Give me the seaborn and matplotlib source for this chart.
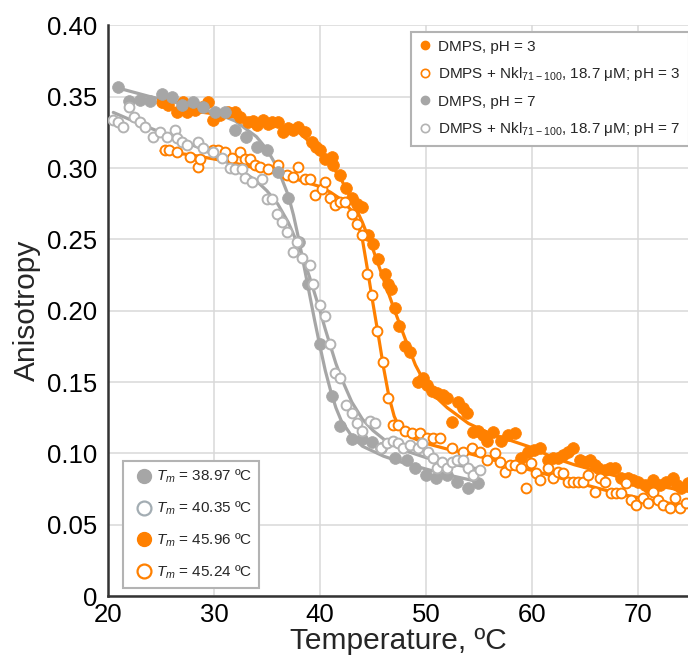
import numpy as np
import pandas as pd
import matplotlib
matplotlib.use("Agg")
import matplotlib.pyplot as plt
import seaborn as sns
from matplotlib.lines import Line2D

# ---------------- data ----------------
# DMPS, pH = 3 (orange, filled)
ph3_x = [25.1, 25.7, 26.5, 27.1, 27.5, 28.2, 28.9, 29.4, 29.9, 30.6, 31.3, 32.0, 32.5, 33.2, 33.7,
         34.1, 34.6, 35.1, 35.5, 36.0, 36.5, 37.0, 37.5, 37.9, 38.6, 39.2, 39.6, 40.0, 40.5, 41.1,
         41.2, 41.9, 42.5, 43.0, 43.5, 44.0, 44.5, 45.0, 45.5, 46.1, 46.4, 46.7, 47.1, 47.5, 48.0,
         48.5, 49.2, 49.7, 50.1, 50.6, 51.0, 51.6, 52.0, 52.5, 53.0, 53.5, 53.9, 54.4, 54.9, 55.4,
         55.8, 56.3, 57.1, 57.7, 58.4, 59.0, 59.6, 60.2, 60.8, 61.5, 62.0, 62.5, 62.9, 63.4, 63.9,
         64.5, 65.0, 65.5, 65.9, 66.2, 66.9, 67.4, 67.8, 68.4, 69.1, 69.5, 70.0, 70.7, 71.0, 71.4,
         72.1, 72.6, 73.3, 73.7, 74.1, 74.7]
ph3_y = [0.346, 0.344, 0.339, 0.346, 0.339, 0.341, 0.343, 0.346, 0.334, 0.337, 0.339, 0.339, 0.336, 0.332, 0.333,
         0.330, 0.334, 0.331, 0.332, 0.332, 0.325, 0.328, 0.327, 0.329, 0.325, 0.318, 0.315, 0.313, 0.306, 0.308,
         0.302, 0.295, 0.286, 0.279, 0.275, 0.273, 0.253, 0.247, 0.236, 0.226, 0.219, 0.215, 0.202, 0.189, 0.175,
         0.171, 0.150, 0.153, 0.148, 0.144, 0.142, 0.141, 0.139, 0.122, 0.136, 0.132, 0.128, 0.115, 0.116, 0.113,
         0.109, 0.115, 0.109, 0.113, 0.114, 0.097, 0.101, 0.102, 0.104, 0.095, 0.097, 0.097, 0.099, 0.101, 0.104,
         0.095, 0.094, 0.095, 0.092, 0.090, 0.088, 0.090, 0.090, 0.083, 0.083, 0.081, 0.080, 0.078, 0.076, 0.081,
         0.078, 0.080, 0.083, 0.078, 0.076, 0.079]

# DMPS + Nkl71-100, pH = 3 (orange, open)
nk3_x = [25.4, 25.8, 26.5, 27.7, 28.5, 28.7, 29.9, 30.4, 31.0, 31.7, 32.5, 32.9, 33.4, 33.9, 34.3,
         35.1, 36.0, 36.9, 37.5, 37.9, 38.6, 39.1, 39.5, 40.2, 40.5, 40.9, 41.4, 41.9, 42.4, 43.0,
         43.5, 44.0, 44.4, 44.9, 45.4, 45.9, 46.4, 46.9, 47.4, 48.0, 48.7, 49.4, 50.1, 50.7, 51.3,
         52.5, 53.5, 54.3, 55.1, 55.8, 56.5, 57.0, 57.5, 57.9, 58.4, 59.0, 59.4, 59.9, 60.4, 60.8,
         61.5, 62.0, 62.5, 62.9, 63.4, 63.9, 64.3, 64.8, 65.3, 65.9, 66.4, 66.9, 67.5, 67.9, 68.4,
         68.9, 69.3, 69.8, 70.5, 70.9, 71.4, 71.9, 72.4, 73.0, 73.5, 74.0, 74.5]
nk3_y = [0.313, 0.313, 0.311, 0.308, 0.301, 0.306, 0.313, 0.313, 0.311, 0.307, 0.311, 0.306, 0.306, 0.302, 0.301,
         0.299, 0.302, 0.295, 0.294, 0.301, 0.292, 0.292, 0.281, 0.285, 0.290, 0.279, 0.274, 0.276, 0.276, 0.268,
         0.261, 0.253, 0.226, 0.211, 0.186, 0.164, 0.139, 0.120, 0.120, 0.116, 0.114, 0.114, 0.111, 0.111, 0.111,
         0.104, 0.101, 0.104, 0.101, 0.095, 0.100, 0.094, 0.087, 0.092, 0.092, 0.090, 0.076, 0.093, 0.086, 0.081,
         0.090, 0.083, 0.087, 0.086, 0.080, 0.080, 0.080, 0.080, 0.085, 0.073, 0.083, 0.080, 0.072, 0.072, 0.072,
         0.079, 0.067, 0.064, 0.069, 0.065, 0.073, 0.067, 0.064, 0.062, 0.069, 0.062, 0.065]

# DMPS, pH = 7 (gray, filled)
ph7_x = [20.9, 22.0, 23.0, 24.0, 25.1, 26.0, 27.0, 28.0, 29.0, 30.1, 31.0, 32.0, 33.0, 34.1, 35.0,
         36.0, 37.0, 38.0, 38.9, 40.0, 41.1, 41.9, 43.0, 44.0, 44.9, 45.8, 47.1, 48.2, 49.0, 50.0,
         50.9, 52.0, 52.9, 54.0, 54.9]
ph7_y = [0.357, 0.347, 0.348, 0.347, 0.352, 0.350, 0.344, 0.346, 0.343, 0.339, 0.339, 0.327, 0.322, 0.315, 0.313,
         0.297, 0.279, 0.248, 0.219, 0.177, 0.140, 0.119, 0.110, 0.110, 0.108, 0.104, 0.097, 0.095, 0.090, 0.085,
         0.083, 0.085, 0.080, 0.076, 0.079]

# DMPS + Nkl71-100, pH = 7 (gray, open)
nk7_x = [20.5, 20.9, 21.4, 22.0, 22.5, 23.0, 23.5, 24.2, 24.9, 25.6, 26.3, 26.5, 27.0, 27.5, 28.5,
         29.0, 29.9, 30.8, 31.5, 32.0, 32.6, 32.9, 33.6, 34.5, 35.0, 35.5, 35.9, 36.4, 36.9, 37.5,
         37.8, 38.3, 39.1, 39.3, 40.0, 40.5, 40.9, 41.4, 41.9, 42.5, 43.0, 43.5, 44.0, 44.7, 45.2,
         45.8, 46.3, 46.9, 47.4, 47.8, 48.5, 49.2, 49.6, 50.2, 50.7, 51.0, 51.5, 52.0, 52.5, 52.9,
         53.5, 54.0, 54.4, 55.1]
nk7_y = [0.334, 0.332, 0.329, 0.343, 0.336, 0.332, 0.329, 0.322, 0.325, 0.322, 0.327, 0.321, 0.318, 0.316, 0.318,
         0.314, 0.311, 0.307, 0.300, 0.299, 0.299, 0.293, 0.290, 0.292, 0.278, 0.278, 0.268, 0.262, 0.255, 0.241,
         0.248, 0.237, 0.232, 0.219, 0.204, 0.196, 0.177, 0.156, 0.153, 0.134, 0.128, 0.121, 0.116, 0.123, 0.121,
         0.104, 0.107, 0.109, 0.107, 0.104, 0.106, 0.104, 0.107, 0.101, 0.097, 0.090, 0.094, 0.090, 0.094, 0.095,
         0.095, 0.090, 0.085, 0.088]

# fitted curves
fit_ph3_x = [25, 28, 31, 34, 36, 38, 40, 41, 42, 43, 44, 45, 46, 47, 48, 49, 50, 51, 52, 54,
             56, 58, 60, 62, 64, 66, 68, 70, 72, 75]
fit_ph3_y = [0.343, 0.340, 0.337, 0.333, 0.330, 0.325, 0.312, 0.303, 0.292, 0.278, 0.262, 0.243, 0.222, 0.201,
             0.181, 0.162, 0.148, 0.139, 0.132, 0.121, 0.114, 0.109, 0.104, 0.097, 0.092, 0.088, 0.084, 0.080,
             0.077, 0.073]
fit_nk3_x = [25, 28, 31, 34, 37, 40, 41, 42, 43, 43.5, 44, 44.5, 45, 45.5, 46, 46.5, 47, 47.5, 48, 49,
             50, 52, 54, 56, 58, 60, 62, 64, 66, 68, 70, 72, 75]
fit_nk3_y = [0.312, 0.309, 0.305, 0.300, 0.294, 0.287, 0.283, 0.278, 0.270, 0.263, 0.250, 0.228, 0.205, 0.183,
             0.160, 0.140, 0.126, 0.118, 0.114, 0.110, 0.107, 0.103, 0.100, 0.096, 0.092, 0.088, 0.084, 0.080,
             0.076, 0.072, 0.069, 0.066, 0.063]
fit_ph7_x = [21, 24, 27, 30, 32, 34, 35, 36, 37, 37.5, 38, 38.5, 39, 39.5, 40, 40.5, 41, 41.5, 42, 43,
             44, 46, 48, 50, 52, 55]
fit_ph7_y = [0.356, 0.350, 0.345, 0.339, 0.333, 0.322, 0.313, 0.300, 0.281, 0.267, 0.250, 0.231, 0.212, 0.193,
             0.175, 0.158, 0.144, 0.132, 0.123, 0.112, 0.105, 0.098, 0.093, 0.089, 0.085, 0.080]
fit_nk7_x = [20.5, 23, 26, 29, 32, 34, 35, 36, 37, 38, 38.5, 39, 39.5, 40, 40.5, 41, 41.5, 42, 43, 44,
             45, 46, 48, 50, 52, 55]
fit_nk7_y = [0.339, 0.331, 0.322, 0.313, 0.301, 0.291, 0.284, 0.275, 0.262, 0.245, 0.235, 0.224, 0.212, 0.200,
             0.187, 0.175, 0.163, 0.153, 0.136, 0.124, 0.116, 0.110, 0.102, 0.097, 0.093, 0.089]

x_ticks = [20, 30, 40, 50, 60, 70]
y_ticks = [0, 0.05, 0.10, 0.15, 0.20, 0.25, 0.30, 0.35, 0.40]
y_tick_labels = ["0", "0.05", "0.10", "0.15", "0.20", "0.25", "0.30", "0.35", "0.40"]

legend_labels = ["DMPS, pH = 3",
                 "DMPS + Nkl$_\\mathregular{71-100}$, 18.7 \u03bcM; pH = 3",
                 "DMPS, pH = 7",
                 "DMPS + Nkl$_\\mathregular{71-100}$, 18.7 \u03bcM; pH = 7"]
tm_labels = ["$T_m$ = 38.97 \u00baC", "$T_m$ = 40.35 \u00baC",
             "$T_m$ = 45.96 \u00baC", "$T_m$ = 45.24 \u00baC"]

# ---------------- styling ----------------
ORANGE = "#ff8000"
GRAY = "#a6a6a6"
GRAY_OPEN = "#b3b3b3"
GRAY_BLUE = "#a3adb3"

sns.set_style("white")
plt.rcParams["font.family"] = ["Liberation Sans", "DejaVu Sans"]
plt.rcParams["mathtext.fontset"] = "custom"
plt.rcParams["mathtext.rm"] = "Liberation Sans"
plt.rcParams["mathtext.it"] = "Liberation Sans:italic"
plt.rcParams["mathtext.bf"] = "Liberation Sans:bold"

fig = plt.figure(figsize=(6.88, 6.55), dpi=100)
ax = fig.add_axes([108 / 688, 1 - 596 / 655, 580 / 688, (596 - 25.4) / 655])

# fits + points, per series
series = [
    (fit_ph3_x, fit_ph3_y, ph3_x, ph3_y, ORANGE, True),
    (fit_nk3_x, fit_nk3_y, nk3_x, nk3_y, ORANGE, False),
    (fit_ph7_x, fit_ph7_y, ph7_x, ph7_y, GRAY, True),
    (fit_nk7_x, fit_nk7_y, nk7_x, nk7_y, GRAY, False),
]
for fx, fy, px, py, col, filled in series:
    fit_df = pd.DataFrame({"T": fx, "A": fy})
    pts_df = pd.DataFrame({"T": px, "A": py})
    sns.lineplot(data=fit_df, x="T", y="A", ax=ax, color=col, linewidth=2.3,
                 estimator=None, sort=True, zorder=3)
    if filled:
        sns.scatterplot(data=pts_df, x="T", y="A", ax=ax, s=72, color=col,
                        edgecolor=col, linewidth=0.5, zorder=4)
    else:
        ec = col if col == ORANGE else GRAY_OPEN
        sns.scatterplot(data=pts_df, x="T", y="A", ax=ax, s=50, facecolor="white",
                        edgecolor=ec, linewidth=1.4, zorder=4)

ax.set_xlim(20, 74.72)
ax.set_ylim(0, 0.40)
ax.set_xticks(x_ticks)
ax.set_xticklabels([str(t) for t in x_ticks])
ax.set_yticks(y_ticks)
ax.set_yticklabels(y_tick_labels)
ax.tick_params(axis="both", length=0, labelsize=18.5, pad=8, colors="black")
ax.tick_params(axis="x", pad=5)
ax.grid(True, color="#d9d9d9", linewidth=1.1)
ax.set_axisbelow(True)
for s in ["top", "right"]:
    ax.spines[s].set_visible(False)
for s in ["left", "bottom"]:
    ax.spines[s].set_color("#333333")
    ax.spines[s].set_linewidth(1.8)

ax.set_xlabel("Temperature, \u00baC", fontsize=21.5, labelpad=0)
ax.set_ylabel("Anisotropy", fontsize=21.5, labelpad=4)

# legend 1 (series)
h1 = [
    Line2D([], [], ls="none", marker="o", ms=6, mfc=ORANGE, mec=ORANGE),
    Line2D([], [], ls="none", marker="o", ms=6, mfc="white", mec=ORANGE, mew=1.2),
    Line2D([], [], ls="none", marker="o", ms=6, mfc=GRAY, mec=GRAY),
    Line2D([], [], ls="none", marker="o", ms=6, mfc="white", mec=GRAY_OPEN, mew=1.2),
]
leg1 = ax.legend(h1, legend_labels, loc="upper left", bbox_to_anchor=(411 / 688, 1 - 32 / 655),
                 bbox_transform=fig.transFigure, frameon=True, fancybox=False,
                 edgecolor="#b3b3b3", framealpha=1, fontsize=11, handlelength=0.8,
                 handletextpad=0.5, labelspacing=0.75, borderpad=0.5, borderaxespad=0)
leg1.get_frame().set_linewidth(1.5)
ax.add_artist(leg1)

# legend 2 (Tm values)
h2 = [
    Line2D([], [], ls="none", marker="o", ms=10, mfc=GRAY, mec=GRAY),
    Line2D([], [], ls="none", marker="o", ms=10, mfc="white", mec=GRAY_BLUE, mew=1.6),
    Line2D([], [], ls="none", marker="o", ms=10, mfc=ORANGE, mec=ORANGE),
    Line2D([], [], ls="none", marker="o", ms=10, mfc="white", mec=ORANGE, mew=1.6),
]
leg2 = ax.legend(h2, tm_labels, loc="lower left", bbox_to_anchor=(123 / 688, 1 - 588 / 655),
                 bbox_transform=fig.transFigure, frameon=True, fancybox=False,
                 edgecolor="#b3b3b3", framealpha=1, fontsize=11, handlelength=1.8,
                 handletextpad=-0.1, labelspacing=0.95, borderpad=0.45, borderaxespad=0)
leg2.get_frame().set_linewidth(1.5)

fig.savefig("out.png", dpi=100)
